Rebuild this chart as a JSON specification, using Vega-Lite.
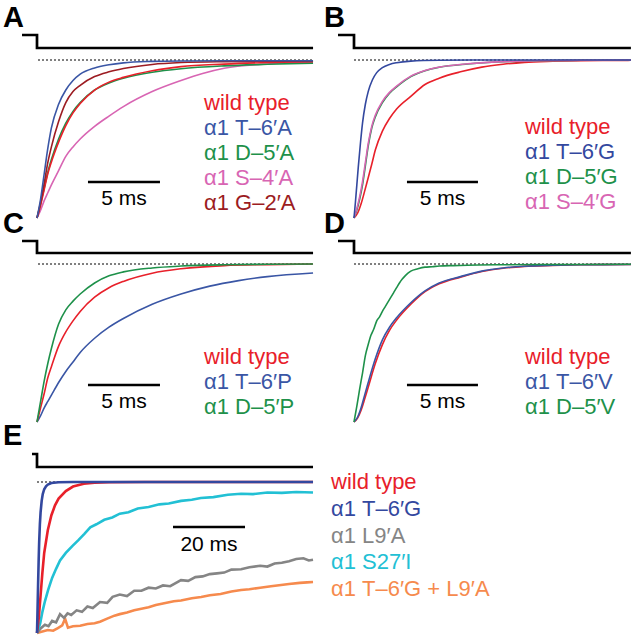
{
"$schema": "https://vega.github.io/schema/vega-lite/v6.json",
"padding": 0,
"background": "white",
"spacing": 0,
"columns": 2,
"bounds": "flush",
"config": {"view": {"stroke": null}, "concat": {"spacing": 0}, "text": {"font": "Liberation Sans"}},
"resolve": {"scale": {"x": "independent", "y": "independent"}},
"datasets": {
"stim": [
{"panel":"A","i":0,"t":-1.04,"level":0.1582},{"panel":"A","i":1,"t":0,"level":0.1582},{"panel":"A","i":2,"t":0,"level":0.0759},{"panel":"A","i":3,"t":19.17,"level":0.0759},
{"panel":"B","i":0,"t":-1.127,"level":0.1582},{"panel":"B","i":1,"t":0,"level":0.1582},{"panel":"B","i":2,"t":0,"level":0.0759},{"panel":"B","i":3,"t":19.5,"level":0.0759},
{"panel":"C","i":0,"t":-1.04,"level":0.1456},{"panel":"C","i":1,"t":0,"level":0.1456},{"panel":"C","i":2,"t":0,"level":0.0696},{"panel":"C","i":3,"t":19.17,"level":0.0696},
{"panel":"D","i":0,"t":-1.127,"level":0.1456},{"panel":"D","i":1,"t":0,"level":0.1456},{"panel":"D","i":2,"t":0,"level":0.0696},{"panel":"D","i":3,"t":19.5,"level":0.0696},
{"panel":"E","i":0,"t":-1.39,"level":0.1854},{"panel":"E","i":1,"t":0,"level":0.1854},{"panel":"E","i":2,"t":0,"level":0.0993},{"panel":"E","i":3,"t":76.67,"level":0.0993}
],
"panels": [
{"panel":"A","bar":"5 ms"},{"panel":"B","bar":"5 ms"},{"panel":"C","bar":"5 ms"},{"panel":"D","bar":"5 ms"},{"panel":"E","bar":"20 ms"}
],
"labels": [
{"panel":"A","series":"wild type","rank":0},{"panel":"A","series":"α1 T–6′A","rank":1},{"panel":"A","series":"α1 D–5′A","rank":2},{"panel":"A","series":"α1 S–4′A","rank":3},{"panel":"A","series":"α1 G–2′A","rank":4},
{"panel":"B","series":"wild type","rank":0},{"panel":"B","series":"α1 T–6′G","rank":1},{"panel":"B","series":"α1 D–5′G","rank":2},{"panel":"B","series":"α1 S–4′G","rank":3},
{"panel":"C","series":"wild type","rank":0},{"panel":"C","series":"α1 T–6′P","rank":1},{"panel":"C","series":"α1 D–5′P","rank":2},
{"panel":"D","series":"wild type","rank":0},{"panel":"D","series":"α1 T–6′V","rank":1},{"panel":"D","series":"α1 D–5′V","rank":2},
{"panel":"E","series":"wild type","rank":0},{"panel":"E","series":"α1 T–6′G","rank":1},{"panel":"E","series":"α1 L9′A","rank":2},{"panel":"E","series":"α1 S27′I","rank":3},{"panel":"E","series":"α1 T–6′G + L9′A","rank":4}
],
"traces": [
{"panel":"A","series":"α1 S–4′A","t":0,"current":-1},{"panel":"A","series":"α1 S–4′A","t":0.25,"current":-0.95},{"panel":"A","series":"α1 S–4′A","t":0.5,"current":-0.89},{"panel":"A","series":"α1 S–4′A","t":0.75,"current":-0.84},{"panel":"A","series":"α1 S–4′A","t":1,"current":-0.79},{"panel":"A","series":"α1 S–4′A","t":1.5,"current":-0.7},{"panel":"A","series":"α1 S–4′A","t":2,"current":-0.61},{"panel":"A","series":"α1 S–4′A","t":2.5,"current":-0.55},{"panel":"A","series":"α1 S–4′A","t":3,"current":-0.5},{"panel":"A","series":"α1 S–4′A","t":4,"current":-0.42},{"panel":"A","series":"α1 S–4′A","t":5,"current":-0.355},{"panel":"A","series":"α1 S–4′A","t":6,"current":-0.295},{"panel":"A","series":"α1 S–4′A","t":8,"current":-0.2},{"panel":"A","series":"α1 S–4′A","t":10,"current":-0.13},{"panel":"A","series":"α1 S–4′A","t":11.5,"current":-0.085},{"panel":"A","series":"α1 S–4′A","t":13,"current":-0.052},{"panel":"A","series":"α1 S–4′A","t":16,"current":-0.025},{"panel":"A","series":"α1 S–4′A","t":19.17,"current":-0.013},
{"panel":"A","series":"α1 D–5′A","t":0,"current":-1},{"panel":"A","series":"α1 D–5′A","t":0.25,"current":-0.91},{"panel":"A","series":"α1 D–5′A","t":0.5,"current":-0.81},{"panel":"A","series":"α1 D–5′A","t":0.75,"current":-0.71},{"panel":"A","series":"α1 D–5′A","t":1,"current":-0.63},{"panel":"A","series":"α1 D–5′A","t":1.5,"current":-0.5},{"panel":"A","series":"α1 D–5′A","t":2,"current":-0.4},{"panel":"A","series":"α1 D–5′A","t":2.5,"current":-0.325},{"panel":"A","series":"α1 D–5′A","t":3,"current":-0.27},{"panel":"A","series":"α1 D–5′A","t":4,"current":-0.19},{"panel":"A","series":"α1 D–5′A","t":5,"current":-0.145},{"panel":"A","series":"α1 D–5′A","t":6,"current":-0.115},{"panel":"A","series":"α1 D–5′A","t":8,"current":-0.077},{"panel":"A","series":"α1 D–5′A","t":10,"current":-0.055},{"panel":"A","series":"α1 D–5′A","t":13,"current":-0.037},{"panel":"A","series":"α1 D–5′A","t":16,"current":-0.027},{"panel":"A","series":"α1 D–5′A","t":19.17,"current":-0.02},
{"panel":"A","series":"wild type","t":0,"current":-1},{"panel":"A","series":"wild type","t":0.25,"current":-0.92},{"panel":"A","series":"wild type","t":0.5,"current":-0.82},{"panel":"A","series":"wild type","t":0.75,"current":-0.72},{"panel":"A","series":"wild type","t":1,"current":-0.645},{"panel":"A","series":"wild type","t":1.5,"current":-0.52},{"panel":"A","series":"wild type","t":2,"current":-0.415},{"panel":"A","series":"wild type","t":2.5,"current":-0.335},{"panel":"A","series":"wild type","t":3,"current":-0.275},{"panel":"A","series":"wild type","t":4,"current":-0.19},{"panel":"A","series":"wild type","t":5,"current":-0.14},{"panel":"A","series":"wild type","t":6,"current":-0.11},{"panel":"A","series":"wild type","t":8,"current":-0.068},{"panel":"A","series":"wild type","t":10,"current":-0.042},{"panel":"A","series":"wild type","t":13,"current":-0.026},{"panel":"A","series":"wild type","t":16,"current":-0.016},{"panel":"A","series":"wild type","t":19.17,"current":-0.01},
{"panel":"A","series":"α1 G–2′A","t":0,"current":-1},{"panel":"A","series":"α1 G–2′A","t":0.25,"current":-0.9},{"panel":"A","series":"α1 G–2′A","t":0.5,"current":-0.78},{"panel":"A","series":"α1 G–2′A","t":0.75,"current":-0.65},{"panel":"A","series":"α1 G–2′A","t":1,"current":-0.55},{"panel":"A","series":"α1 G–2′A","t":1.5,"current":-0.39},{"panel":"A","series":"α1 G–2′A","t":2,"current":-0.27},{"panel":"A","series":"α1 G–2′A","t":2.5,"current":-0.2},{"panel":"A","series":"α1 G–2′A","t":3,"current":-0.16},{"panel":"A","series":"α1 G–2′A","t":4,"current":-0.105},{"panel":"A","series":"α1 G–2′A","t":5,"current":-0.075},{"panel":"A","series":"α1 G–2′A","t":6,"current":-0.054},{"panel":"A","series":"α1 G–2′A","t":8,"current":-0.028},{"panel":"A","series":"α1 G–2′A","t":10,"current":-0.016},{"panel":"A","series":"α1 G–2′A","t":13,"current":-0.01},{"panel":"A","series":"α1 G–2′A","t":16,"current":-0.008},{"panel":"A","series":"α1 G–2′A","t":19.17,"current":-0.007},
{"panel":"A","series":"α1 T–6′A","t":0,"current":-1},{"panel":"A","series":"α1 T–6′A","t":0.25,"current":-0.88},{"panel":"A","series":"α1 T–6′A","t":0.5,"current":-0.72},{"panel":"A","series":"α1 T–6′A","t":0.75,"current":-0.56},{"panel":"A","series":"α1 T–6′A","t":1,"current":-0.43},{"panel":"A","series":"α1 T–6′A","t":1.5,"current":-0.28},{"panel":"A","series":"α1 T–6′A","t":2,"current":-0.19},{"panel":"A","series":"α1 T–6′A","t":2.5,"current":-0.13},{"panel":"A","series":"α1 T–6′A","t":3,"current":-0.09},{"panel":"A","series":"α1 T–6′A","t":4,"current":-0.05},{"panel":"A","series":"α1 T–6′A","t":5,"current":-0.03},{"panel":"A","series":"α1 T–6′A","t":6,"current":-0.018},{"panel":"A","series":"α1 T–6′A","t":8,"current":-0.009},{"panel":"A","series":"α1 T–6′A","t":10,"current":-0.006},{"panel":"A","series":"α1 T–6′A","t":13,"current":-0.005},{"panel":"A","series":"α1 T–6′A","t":16,"current":-0.005},{"panel":"A","series":"α1 T–6′A","t":19.17,"current":-0.005},

{"panel":"B","series":"wild type","t":0,"current":-1},{"panel":"B","series":"wild type","t":0.25,"current":-0.97},{"panel":"B","series":"wild type","t":0.5,"current":-0.91},{"panel":"B","series":"wild type","t":0.75,"current":-0.83},{"panel":"B","series":"wild type","t":1,"current":-0.745},{"panel":"B","series":"wild type","t":1.25,"current":-0.66},{"panel":"B","series":"wild type","t":1.5,"current":-0.57},{"panel":"B","series":"wild type","t":2,"current":-0.45},{"panel":"B","series":"wild type","t":2.5,"current":-0.37},{"panel":"B","series":"wild type","t":3,"current":-0.31},{"panel":"B","series":"wild type","t":4,"current":-0.23},{"panel":"B","series":"wild type","t":5,"current":-0.155},{"panel":"B","series":"wild type","t":6,"current":-0.115},{"panel":"B","series":"wild type","t":7.5,"current":-0.075},{"panel":"B","series":"wild type","t":9,"current":-0.045},{"panel":"B","series":"wild type","t":10.5,"current":-0.027},{"panel":"B","series":"wild type","t":12,"current":-0.015},{"panel":"B","series":"wild type","t":14,"current":-0.008},{"panel":"B","series":"wild type","t":16,"current":-0.004},{"panel":"B","series":"wild type","t":19.5,"current":-0.002},
{"panel":"B","series":"α1 D–5′G","t":0,"current":-1},{"panel":"B","series":"α1 D–5′G","t":0.2,"current":-0.95},{"panel":"B","series":"α1 D–5′G","t":0.4,"current":-0.88},{"panel":"B","series":"α1 D–5′G","t":0.6,"current":-0.79},{"panel":"B","series":"α1 D–5′G","t":0.8,"current":-0.67},{"panel":"B","series":"α1 D–5′G","t":1,"current":-0.545},{"panel":"B","series":"α1 D–5′G","t":1.25,"current":-0.43},{"panel":"B","series":"α1 D–5′G","t":1.5,"current":-0.36},{"panel":"B","series":"α1 D–5′G","t":2,"current":-0.27},{"panel":"B","series":"α1 D–5′G","t":2.5,"current":-0.21},{"panel":"B","series":"α1 D–5′G","t":3,"current":-0.17},{"panel":"B","series":"α1 D–5′G","t":4,"current":-0.105},{"panel":"B","series":"α1 D–5′G","t":5,"current":-0.068},{"panel":"B","series":"α1 D–5′G","t":6,"current":-0.046},{"panel":"B","series":"α1 D–5′G","t":8,"current":-0.025},{"panel":"B","series":"α1 D–5′G","t":10,"current":-0.013},{"panel":"B","series":"α1 D–5′G","t":13,"current":-0.005},{"panel":"B","series":"α1 D–5′G","t":16,"current":-0.002},{"panel":"B","series":"α1 D–5′G","t":19.5,"current":0},
{"panel":"B","series":"α1 S–4′G","t":0,"current":-1},{"panel":"B","series":"α1 S–4′G","t":0.2,"current":-0.94},{"panel":"B","series":"α1 S–4′G","t":0.4,"current":-0.865},{"panel":"B","series":"α1 S–4′G","t":0.6,"current":-0.77},{"panel":"B","series":"α1 S–4′G","t":0.8,"current":-0.65},{"panel":"B","series":"α1 S–4′G","t":1,"current":-0.53},{"panel":"B","series":"α1 S–4′G","t":1.25,"current":-0.42},{"panel":"B","series":"α1 S–4′G","t":1.5,"current":-0.35},{"panel":"B","series":"α1 S–4′G","t":2,"current":-0.262},{"panel":"B","series":"α1 S–4′G","t":2.5,"current":-0.205},{"panel":"B","series":"α1 S–4′G","t":3,"current":-0.165},{"panel":"B","series":"α1 S–4′G","t":4,"current":-0.102},{"panel":"B","series":"α1 S–4′G","t":5,"current":-0.066},{"panel":"B","series":"α1 S–4′G","t":6,"current":-0.045},{"panel":"B","series":"α1 S–4′G","t":8,"current":-0.024},{"panel":"B","series":"α1 S–4′G","t":10,"current":-0.012},{"panel":"B","series":"α1 S–4′G","t":13,"current":-0.005},{"panel":"B","series":"α1 S–4′G","t":16,"current":-0.002},{"panel":"B","series":"α1 S–4′G","t":19.5,"current":0},
{"panel":"B","series":"α1 T–6′G","t":0,"current":-1},{"panel":"B","series":"α1 T–6′G","t":0.1,"current":-0.9},{"panel":"B","series":"α1 T–6′G","t":0.2,"current":-0.79},{"panel":"B","series":"α1 T–6′G","t":0.3,"current":-0.68},{"panel":"B","series":"α1 T–6′G","t":0.45,"current":-0.53},{"panel":"B","series":"α1 T–6′G","t":0.6,"current":-0.4},{"panel":"B","series":"α1 T–6′G","t":0.8,"current":-0.28},{"panel":"B","series":"α1 T–6′G","t":1,"current":-0.2},{"panel":"B","series":"α1 T–6′G","t":1.3,"current":-0.125},{"panel":"B","series":"α1 T–6′G","t":1.6,"current":-0.08},{"panel":"B","series":"α1 T–6′G","t":2,"current":-0.048},{"panel":"B","series":"α1 T–6′G","t":2.5,"current":-0.028},{"panel":"B","series":"α1 T–6′G","t":3,"current":-0.017},{"panel":"B","series":"α1 T–6′G","t":4,"current":-0.007},{"panel":"B","series":"α1 T–6′G","t":6,"current":-0.002},{"panel":"B","series":"α1 T–6′G","t":10,"current":0},{"panel":"B","series":"α1 T–6′G","t":19.5,"current":0},

{"panel":"C","series":"α1 T–6′P","t":0,"current":-1},{"panel":"C","series":"α1 T–6′P","t":0.25,"current":-0.96},{"panel":"C","series":"α1 T–6′P","t":0.5,"current":-0.91},{"panel":"C","series":"α1 T–6′P","t":0.75,"current":-0.87},{"panel":"C","series":"α1 T–6′P","t":1,"current":-0.83},{"panel":"C","series":"α1 T–6′P","t":1.5,"current":-0.75},{"panel":"C","series":"α1 T–6′P","t":2,"current":-0.68},{"panel":"C","series":"α1 T–6′P","t":2.5,"current":-0.62},{"panel":"C","series":"α1 T–6′P","t":3,"current":-0.56},{"panel":"C","series":"α1 T–6′P","t":4,"current":-0.47},{"panel":"C","series":"α1 T–6′P","t":5,"current":-0.4},{"panel":"C","series":"α1 T–6′P","t":6,"current":-0.345},{"panel":"C","series":"α1 T–6′P","t":8,"current":-0.255},{"panel":"C","series":"α1 T–6′P","t":10,"current":-0.19},{"panel":"C","series":"α1 T–6′P","t":12,"current":-0.14},{"panel":"C","series":"α1 T–6′P","t":14,"current":-0.105},{"panel":"C","series":"α1 T–6′P","t":16,"current":-0.08},{"panel":"C","series":"α1 T–6′P","t":19.17,"current":-0.057},
{"panel":"C","series":"wild type","t":0,"current":-1},{"panel":"C","series":"wild type","t":0.25,"current":-0.91},{"panel":"C","series":"wild type","t":0.5,"current":-0.82},{"panel":"C","series":"wild type","t":0.75,"current":-0.72},{"panel":"C","series":"wild type","t":1,"current":-0.65},{"panel":"C","series":"wild type","t":1.5,"current":-0.52},{"panel":"C","series":"wild type","t":2,"current":-0.43},{"panel":"C","series":"wild type","t":2.5,"current":-0.36},{"panel":"C","series":"wild type","t":3,"current":-0.3},{"panel":"C","series":"wild type","t":4,"current":-0.21},{"panel":"C","series":"wild type","t":5,"current":-0.15},{"panel":"C","series":"wild type","t":6,"current":-0.11},{"panel":"C","series":"wild type","t":8,"current":-0.058},{"panel":"C","series":"wild type","t":10,"current":-0.03},{"panel":"C","series":"wild type","t":13,"current":-0.01},{"panel":"C","series":"wild type","t":16,"current":-0.004},{"panel":"C","series":"wild type","t":19.17,"current":0},
{"panel":"C","series":"α1 D–5′P","t":0,"current":-1},{"panel":"C","series":"α1 D–5′P","t":0.25,"current":-0.87},{"panel":"C","series":"α1 D–5′P","t":0.5,"current":-0.74},{"panel":"C","series":"α1 D–5′P","t":0.75,"current":-0.63},{"panel":"C","series":"α1 D–5′P","t":1,"current":-0.535},{"panel":"C","series":"α1 D–5′P","t":1.5,"current":-0.38},{"panel":"C","series":"α1 D–5′P","t":2,"current":-0.29},{"panel":"C","series":"α1 D–5′P","t":2.5,"current":-0.235},{"panel":"C","series":"α1 D–5′P","t":3,"current":-0.19},{"panel":"C","series":"α1 D–5′P","t":4,"current":-0.12},{"panel":"C","series":"α1 D–5′P","t":5,"current":-0.075},{"panel":"C","series":"α1 D–5′P","t":6,"current":-0.05},{"panel":"C","series":"α1 D–5′P","t":8,"current":-0.025},{"panel":"C","series":"α1 D–5′P","t":10,"current":-0.013},{"panel":"C","series":"α1 D–5′P","t":13,"current":-0.005},{"panel":"C","series":"α1 D–5′P","t":16,"current":-0.002},{"panel":"C","series":"α1 D–5′P","t":19.17,"current":0},

{"panel":"D","series":"wild type","t":0,"current":-1},{"panel":"D","series":"wild type","t":0.25,"current":-0.975},{"panel":"D","series":"wild type","t":0.5,"current":-0.925},{"panel":"D","series":"wild type","t":0.75,"current":-0.855},{"panel":"D","series":"wild type","t":1,"current":-0.78},{"panel":"D","series":"wild type","t":1.5,"current":-0.63},{"panel":"D","series":"wild type","t":2,"current":-0.51},{"panel":"D","series":"wild type","t":2.5,"current":-0.42},{"panel":"D","series":"wild type","t":3,"current":-0.355},{"panel":"D","series":"wild type","t":4,"current":-0.255},{"panel":"D","series":"wild type","t":5,"current":-0.175},{"panel":"D","series":"wild type","t":6,"current":-0.125},{"panel":"D","series":"wild type","t":7.5,"current":-0.083},{"panel":"D","series":"wild type","t":9,"current":-0.048},{"panel":"D","series":"wild type","t":10.5,"current":-0.027},{"panel":"D","series":"wild type","t":12,"current":-0.015},{"panel":"D","series":"wild type","t":14,"current":-0.009},{"panel":"D","series":"wild type","t":16,"current":-0.005},{"panel":"D","series":"wild type","t":19.5,"current":-0.003},
{"panel":"D","series":"α1 T–6′V","t":0,"current":-1},{"panel":"D","series":"α1 T–6′V","t":0.25,"current":-0.97},{"panel":"D","series":"α1 T–6′V","t":0.5,"current":-0.91},{"panel":"D","series":"α1 T–6′V","t":0.75,"current":-0.83},{"panel":"D","series":"α1 T–6′V","t":1,"current":-0.75},{"panel":"D","series":"α1 T–6′V","t":1.5,"current":-0.6},{"panel":"D","series":"α1 T–6′V","t":2,"current":-0.48},{"panel":"D","series":"α1 T–6′V","t":2.5,"current":-0.4},{"panel":"D","series":"α1 T–6′V","t":3,"current":-0.34},{"panel":"D","series":"α1 T–6′V","t":4,"current":-0.245},{"panel":"D","series":"α1 T–6′V","t":5,"current":-0.17},{"panel":"D","series":"α1 T–6′V","t":6,"current":-0.12},{"panel":"D","series":"α1 T–6′V","t":7.5,"current":-0.08},{"panel":"D","series":"α1 T–6′V","t":9,"current":-0.045},{"panel":"D","series":"α1 T–6′V","t":10.5,"current":-0.025},{"panel":"D","series":"α1 T–6′V","t":12,"current":-0.014},{"panel":"D","series":"α1 T–6′V","t":14,"current":-0.008},{"panel":"D","series":"α1 T–6′V","t":16,"current":-0.005},{"panel":"D","series":"α1 T–6′V","t":19.5,"current":-0.003},
{"panel":"D","series":"α1 D–5′V","t":0,"current":-1},{"panel":"D","series":"α1 D–5′V","t":0.2,"current":-0.9},{"panel":"D","series":"α1 D–5′V","t":0.4,"current":-0.79},{"panel":"D","series":"α1 D–5′V","t":0.6,"current":-0.69},{"panel":"D","series":"α1 D–5′V","t":0.8,"current":-0.58},{"panel":"D","series":"α1 D–5′V","t":1,"current":-0.51},{"panel":"D","series":"α1 D–5′V","t":1.2,"current":-0.45},{"panel":"D","series":"α1 D–5′V","t":1.4,"current":-0.41},{"panel":"D","series":"α1 D–5′V","t":1.6,"current":-0.36},{"panel":"D","series":"α1 D–5′V","t":1.8,"current":-0.335},{"panel":"D","series":"α1 D–5′V","t":2,"current":-0.3},{"panel":"D","series":"α1 D–5′V","t":2.2,"current":-0.27},{"panel":"D","series":"α1 D–5′V","t":2.4,"current":-0.24},{"panel":"D","series":"α1 D–5′V","t":2.6,"current":-0.21},{"panel":"D","series":"α1 D–5′V","t":2.8,"current":-0.18},{"panel":"D","series":"α1 D–5′V","t":3,"current":-0.15},{"panel":"D","series":"α1 D–5′V","t":3.2,"current":-0.12},{"panel":"D","series":"α1 D–5′V","t":3.4,"current":-0.095},{"panel":"D","series":"α1 D–5′V","t":3.6,"current":-0.075},{"panel":"D","series":"α1 D–5′V","t":3.8,"current":-0.058},{"panel":"D","series":"α1 D–5′V","t":4,"current":-0.045},{"panel":"D","series":"α1 D–5′V","t":4.5,"current":-0.03},{"panel":"D","series":"α1 D–5′V","t":5,"current":-0.02},{"panel":"D","series":"α1 D–5′V","t":5.5,"current":-0.017},{"panel":"D","series":"α1 D–5′V","t":6,"current":-0.013},{"panel":"D","series":"α1 D–5′V","t":7,"current":-0.01},{"panel":"D","series":"α1 D–5′V","t":8,"current":-0.008},{"panel":"D","series":"α1 D–5′V","t":10,"current":-0.005},{"panel":"D","series":"α1 D–5′V","t":13,"current":-0.003},{"panel":"D","series":"α1 D–5′V","t":16,"current":-0.003},{"panel":"D","series":"α1 D–5′V","t":19.5,"current":-0.002},

{"panel":"E","series":"α1 T–6′G + L9′A","t":0,"current":-1},{"panel":"E","series":"α1 T–6′G + L9′A","t":1.5,"current":-0.99},{"panel":"E","series":"α1 T–6′G + L9′A","t":3,"current":-0.98},{"panel":"E","series":"α1 T–6′G + L9′A","t":4.5,"current":-0.985},{"panel":"E","series":"α1 T–6′G + L9′A","t":5.8,"current":-0.967},{"panel":"E","series":"α1 T–6′G + L9′A","t":7,"current":-0.95},{"panel":"E","series":"α1 T–6′G + L9′A","t":7.8,"current":-0.905},{"panel":"E","series":"α1 T–6′G + L9′A","t":8.6,"current":-0.965},{"panel":"E","series":"α1 T–6′G + L9′A","t":10,"current":-0.955},{"panel":"E","series":"α1 T–6′G + L9′A","t":12,"current":-0.952},{"panel":"E","series":"α1 T–6′G + L9′A","t":14,"current":-0.94},{"panel":"E","series":"α1 T–6′G + L9′A","t":16,"current":-0.935},{"panel":"E","series":"α1 T–6′G + L9′A","t":17.5,"current":-0.925},{"panel":"E","series":"α1 T–6′G + L9′A","t":19.5,"current":-0.905},{"panel":"E","series":"α1 T–6′G + L9′A","t":21.5,"current":-0.885},{"panel":"E","series":"α1 T–6′G + L9′A","t":23,"current":-0.875},{"panel":"E","series":"α1 T–6′G + L9′A","t":25,"current":-0.865},{"panel":"E","series":"α1 T–6′G + L9′A","t":27,"current":-0.85},{"panel":"E","series":"α1 T–6′G + L9′A","t":29,"current":-0.84},{"panel":"E","series":"α1 T–6′G + L9′A","t":31,"current":-0.83},{"panel":"E","series":"α1 T–6′G + L9′A","t":33,"current":-0.815},{"panel":"E","series":"α1 T–6′G + L9′A","t":35,"current":-0.805},{"panel":"E","series":"α1 T–6′G + L9′A","t":38,"current":-0.79},{"panel":"E","series":"α1 T–6′G + L9′A","t":40,"current":-0.785},{"panel":"E","series":"α1 T–6′G + L9′A","t":43,"current":-0.77},{"panel":"E","series":"α1 T–6′G + L9′A","t":45.6,"current":-0.762},{"panel":"E","series":"α1 T–6′G + L9′A","t":48,"current":-0.75},{"panel":"E","series":"α1 T–6′G + L9′A","t":51,"current":-0.742},{"panel":"E","series":"α1 T–6′G + L9′A","t":54,"current":-0.725},{"panel":"E","series":"α1 T–6′G + L9′A","t":56.7,"current":-0.715},{"panel":"E","series":"α1 T–6′G + L9′A","t":59,"current":-0.71},{"panel":"E","series":"α1 T–6′G + L9′A","t":62,"current":-0.7},{"panel":"E","series":"α1 T–6′G + L9′A","t":65,"current":-0.69},{"panel":"E","series":"α1 T–6′G + L9′A","t":67.8,"current":-0.682},{"panel":"E","series":"α1 T–6′G + L9′A","t":70,"current":-0.675},{"panel":"E","series":"α1 T–6′G + L9′A","t":73,"current":-0.668},{"panel":"E","series":"α1 T–6′G + L9′A","t":75,"current":-0.665},{"panel":"E","series":"α1 T–6′G + L9′A","t":76.67,"current":-0.662},
{"panel":"E","series":"α1 L9′A","t":0,"current":-1},{"panel":"E","series":"α1 L9′A","t":1,"current":-0.97},{"panel":"E","series":"α1 L9′A","t":2.2,"current":-0.945},{"panel":"E","series":"α1 L9′A","t":3.2,"current":-0.955},{"panel":"E","series":"α1 L9′A","t":4.2,"current":-0.92},{"panel":"E","series":"α1 L9′A","t":5.3,"current":-0.93},{"panel":"E","series":"α1 L9′A","t":6.4,"current":-0.875},{"panel":"E","series":"α1 L9′A","t":7.5,"current":-0.9},{"panel":"E","series":"α1 L9′A","t":8.5,"current":-0.87},{"panel":"E","series":"α1 L9′A","t":9.5,"current":-0.88},{"panel":"E","series":"α1 L9′A","t":11,"current":-0.85},{"panel":"E","series":"α1 L9′A","t":12.5,"current":-0.86},{"panel":"E","series":"α1 L9′A","t":14,"current":-0.825},{"panel":"E","series":"α1 L9′A","t":15.5,"current":-0.835},{"panel":"E","series":"α1 L9′A","t":17.5,"current":-0.795},{"panel":"E","series":"α1 L9′A","t":19.5,"current":-0.8},{"panel":"E","series":"α1 L9′A","t":21,"current":-0.76},{"panel":"E","series":"α1 L9′A","t":23,"current":-0.745},{"panel":"E","series":"α1 L9′A","t":25,"current":-0.755},{"panel":"E","series":"α1 L9′A","t":27,"current":-0.72},{"panel":"E","series":"α1 L9′A","t":29,"current":-0.72},{"panel":"E","series":"α1 L9′A","t":31,"current":-0.7},{"panel":"E","series":"α1 L9′A","t":33,"current":-0.705},{"panel":"E","series":"α1 L9′A","t":35,"current":-0.685},{"panel":"E","series":"α1 L9′A","t":37,"current":-0.69},{"panel":"E","series":"α1 L9′A","t":40,"current":-0.65},{"panel":"E","series":"α1 L9′A","t":42,"current":-0.655},{"panel":"E","series":"α1 L9′A","t":44,"current":-0.63},{"panel":"E","series":"α1 L9′A","t":46,"current":-0.625},{"panel":"E","series":"α1 L9′A","t":48,"current":-0.61},{"panel":"E","series":"α1 L9′A","t":50,"current":-0.605},{"panel":"E","series":"α1 L9′A","t":52,"current":-0.6},{"panel":"E","series":"α1 L9′A","t":54,"current":-0.58},{"panel":"E","series":"α1 L9′A","t":56.7,"current":-0.578},{"panel":"E","series":"α1 L9′A","t":59,"current":-0.565},{"panel":"E","series":"α1 L9′A","t":62,"current":-0.555},{"panel":"E","series":"α1 L9′A","t":64,"current":-0.56},{"panel":"E","series":"α1 L9′A","t":66,"current":-0.54},{"panel":"E","series":"α1 L9′A","t":68,"current":-0.535},{"panel":"E","series":"α1 L9′A","t":70,"current":-0.525},{"panel":"E","series":"α1 L9′A","t":72,"current":-0.51},{"panel":"E","series":"α1 L9′A","t":74,"current":-0.505},{"panel":"E","series":"α1 L9′A","t":75.5,"current":-0.52},{"panel":"E","series":"α1 L9′A","t":76.67,"current":-0.515},
{"panel":"E","series":"α1 S27′I","t":0,"current":-1},{"panel":"E","series":"α1 S27′I","t":0.9,"current":-0.935},{"panel":"E","series":"α1 S27′I","t":1.5,"current":-0.86},{"panel":"E","series":"α1 S27′I","t":2.2,"current":-0.79},{"panel":"E","series":"α1 S27′I","t":3.1,"current":-0.715},{"panel":"E","series":"α1 S27′I","t":4.2,"current":-0.635},{"panel":"E","series":"α1 S27′I","t":5.3,"current":-0.575},{"panel":"E","series":"α1 S27′I","t":6.4,"current":-0.52},{"panel":"E","series":"α1 S27′I","t":8,"current":-0.47},{"panel":"E","series":"α1 S27′I","t":9.8,"current":-0.425},{"panel":"E","series":"α1 S27′I","t":11.5,"current":-0.385},{"panel":"E","series":"α1 S27′I","t":13.1,"current":-0.345},{"panel":"E","series":"α1 S27′I","t":14.8,"current":-0.3},{"panel":"E","series":"α1 S27′I","t":16.5,"current":-0.28},{"panel":"E","series":"α1 S27′I","t":18.7,"current":-0.25},{"panel":"E","series":"α1 S27′I","t":20.9,"current":-0.235},{"panel":"E","series":"α1 S27′I","t":23,"current":-0.21},{"panel":"E","series":"α1 S27′I","t":25.4,"current":-0.2},{"panel":"E","series":"α1 S27′I","t":28,"current":-0.175},{"panel":"E","series":"α1 S27′I","t":31,"current":-0.165},{"panel":"E","series":"α1 S27′I","t":34,"current":-0.148},{"panel":"E","series":"α1 S27′I","t":36.6,"current":-0.142},{"panel":"E","series":"α1 S27′I","t":40,"current":-0.125},{"panel":"E","series":"α1 S27′I","t":43,"current":-0.118},{"panel":"E","series":"α1 S27′I","t":45.5,"current":-0.106},{"panel":"E","series":"α1 S27′I","t":49,"current":-0.1},{"panel":"E","series":"α1 S27′I","t":53,"current":-0.084},{"panel":"E","series":"α1 S27′I","t":56.7,"current":-0.078},{"panel":"E","series":"α1 S27′I","t":60,"current":-0.08},{"panel":"E","series":"α1 S27′I","t":64,"current":-0.07},{"panel":"E","series":"α1 S27′I","t":68,"current":-0.072},{"panel":"E","series":"α1 S27′I","t":72,"current":-0.066},{"panel":"E","series":"α1 S27′I","t":76.67,"current":-0.07},
{"panel":"E","series":"wild type","t":0,"current":-1},{"panel":"E","series":"wild type","t":0.5,"current":-0.9},{"panel":"E","series":"wild type","t":1,"current":-0.75},{"panel":"E","series":"wild type","t":1.5,"current":-0.6},{"panel":"E","series":"wild type","t":2,"current":-0.47},{"panel":"E","series":"wild type","t":3,"current":-0.32},{"panel":"E","series":"wild type","t":4,"current":-0.22},{"panel":"E","series":"wild type","t":5,"current":-0.155},{"panel":"E","series":"wild type","t":6,"current":-0.11},{"panel":"E","series":"wild type","t":8,"current":-0.06},{"panel":"E","series":"wild type","t":10,"current":-0.03},{"panel":"E","series":"wild type","t":13,"current":-0.012},{"panel":"E","series":"wild type","t":16,"current":-0.005},{"panel":"E","series":"wild type","t":20,"current":-0.002},{"panel":"E","series":"wild type","t":30,"current":0},{"panel":"E","series":"wild type","t":76.67,"current":0},
{"panel":"E","series":"α1 T–6′G","t":0,"current":-1},{"panel":"E","series":"α1 T–6′G","t":0.1,"current":-0.9},{"panel":"E","series":"α1 T–6′G","t":0.2,"current":-0.79},{"panel":"E","series":"α1 T–6′G","t":0.3,"current":-0.68},{"panel":"E","series":"α1 T–6′G","t":0.45,"current":-0.53},{"panel":"E","series":"α1 T–6′G","t":0.6,"current":-0.4},{"panel":"E","series":"α1 T–6′G","t":0.8,"current":-0.28},{"panel":"E","series":"α1 T–6′G","t":1,"current":-0.2},{"panel":"E","series":"α1 T–6′G","t":1.3,"current":-0.125},{"panel":"E","series":"α1 T–6′G","t":1.6,"current":-0.08},{"panel":"E","series":"α1 T–6′G","t":2,"current":-0.048},{"panel":"E","series":"α1 T–6′G","t":2.5,"current":-0.028},{"panel":"E","series":"α1 T–6′G","t":3,"current":-0.017},{"panel":"E","series":"α1 T–6′G","t":4,"current":-0.007},{"panel":"E","series":"α1 T–6′G","t":6,"current":-0.002},{"panel":"E","series":"α1 T–6′G","t":10,"current":0},{"panel":"E","series":"α1 T–6′G","t":76.67,"current":0}
]
},
"concat": [
{"width": 316, "height": 220, "resolve": {"scale": {"y": "independent"}}, "layer": [
{"data": {"name": "stim"}, "transform": [{"filter": "datum.panel === 'A'"}], "mark": {"type": "line", "color": "#000", "strokeWidth": 2.7, "strokeJoin": "miter", "strokeCap": "butt"}, "encoding": {"x": {"field": "t", "type": "quantitative", "scale": {"domain": [-2.5694, 19.375], "nice": false, "zero": false}, "axis": null}, "y": {"field": "level", "type": "quantitative", "scale": {"domain": [-1.01266, 0.37975], "nice": false, "zero": false}, "axis": null}, "order": {"field": "i", "type": "quantitative"}}},
{"data": {"name": "panels"}, "transform": [{"filter": "datum.panel === 'A'"}], "mark": {"type": "rule", "color": "#000", "strokeWidth": 1, "strokeDash": [2, 2]}, "encoding": {"x": {"datum": 0.07}, "x2": {"datum": 19.17}, "y": {"datum": 0, "scale": {"domain": [-1.01266, 0.37975], "nice": false, "zero": false}, "axis": null}}},
{"data": {"name": "traces"}, "transform": [{"filter": "datum.panel === 'A'"}], "mark": {"type": "line", "strokeWidth": 1.6, "interpolate": "monotone"}, "encoding": {"x": {"field": "t", "type": "quantitative"}, "y": {"field": "current", "type": "quantitative", "scale": {"domain": [-1.01266, 0.37975], "nice": false, "zero": false}, "axis": null}, "color": {"field": "series", "type": "nominal", "legend": null, "scale": {"domain": ["wild type","α1 T–6′A","α1 D–5′A","α1 S–4′A","α1 G–2′A","α1 T–6′G","α1 D–5′G","α1 S–4′G","α1 T–6′P","α1 D–5′P","α1 T–6′V","α1 D–5′V","α1 L9′A","α1 S27′I","α1 T–6′G + L9′A"], "range": ["#e8202a","#3a56a5","#1e914a","#d865b3","#9c1c22","#33489f","#1e914a","#d865b3","#3a56a5","#1e914a","#3a56a5","#1e914a","#858585","#22c0d4","#f68a4d"]}}}},
{"data": {"name": "labels"}, "transform": [{"filter": "datum.panel === 'A'"}], "mark": {"type": "text", "align": "left", "baseline": "middle", "fontSize": 22}, "encoding": {"x": {"datum": 11.6}, "y": {"field": "rank", "type": "quantitative", "scale": {"domain": [0, 4], "range": [103, 203]}, "axis": null}, "text": {"field": "series"}, "color": {"field": "series", "type": "nominal", "legend": null}}},
{"data": {"name": "panels"}, "transform": [{"filter": "datum.panel === 'A'"}], "mark": {"type": "rule", "color": "#000", "strokeWidth": 2.7, "strokeCap": "butt"}, "encoding": {"x": {"datum": 3.54}, "x2": {"datum": 8.54}, "y": {"datum": -0.7722, "scale": {"domain": [-1.01266, 0.37975], "nice": false, "zero": false}, "axis": null}}},
{"data": {"name": "panels"}, "transform": [{"filter": "datum.panel === 'A'"}], "mark": {"type": "text", "align": "center", "baseline": "middle", "fontSize": 21, "color": "#000"}, "encoding": {"x": {"datum": 6.04}, "y": {"datum": -0.8797, "scale": {"domain": [-1.01266, 0.37975], "nice": false, "zero": false}, "axis": null}, "text": {"field": "bar"}}},
{"data": {"name": "panels"}, "transform": [{"filter": "datum.panel === 'A'"}], "mark": {"type": "text", "align": "left", "baseline": "alphabetic", "fontSize": 29, "fontWeight": "bold", "color": "#000"}, "encoding": {"x": {"datum": -2.361}, "y": {"datum": 0.2089, "scale": {"domain": [-1.01266, 0.37975], "nice": false, "zero": false}, "axis": null}, "text": {"field": "panel"}}}
]},
{"width": 315, "height": 220, "resolve": {"scale": {"y": "independent"}}, "layer": [
{"data": {"name": "stim"}, "transform": [{"filter": "datum.panel === 'B'"}], "mark": {"type": "line", "color": "#000", "strokeWidth": 2.7, "strokeJoin": "miter", "strokeCap": "butt"}, "encoding": {"x": {"field": "t", "type": "quantitative", "scale": {"domain": [-2.6761, 19.507], "nice": false, "zero": false}, "axis": null}, "y": {"field": "level", "type": "quantitative", "scale": {"domain": [-1.01266, 0.37975], "nice": false, "zero": false}, "axis": null}, "order": {"field": "i", "type": "quantitative"}}},
{"data": {"name": "panels"}, "transform": [{"filter": "datum.panel === 'B'"}], "mark": {"type": "rule", "color": "#000", "strokeWidth": 1, "strokeDash": [2, 2]}, "encoding": {"x": {"datum": 0}, "x2": {"datum": 19.5}, "y": {"datum": 0, "scale": {"domain": [-1.01266, 0.37975], "nice": false, "zero": false}, "axis": null}}},
{"data": {"name": "traces"}, "transform": [{"filter": "datum.panel === 'B'"}], "mark": {"type": "line", "strokeWidth": 1.6, "interpolate": "monotone"}, "encoding": {"x": {"field": "t", "type": "quantitative"}, "y": {"field": "current", "type": "quantitative", "scale": {"domain": [-1.01266, 0.37975], "nice": false, "zero": false}, "axis": null}, "color": {"field": "series", "type": "nominal", "legend": null, "scale": {"domain": ["wild type","α1 T–6′A","α1 D–5′A","α1 S–4′A","α1 G–2′A","α1 T–6′G","α1 D–5′G","α1 S–4′G","α1 T–6′P","α1 D–5′P","α1 T–6′V","α1 D–5′V","α1 L9′A","α1 S27′I","α1 T–6′G + L9′A"], "range": ["#e8202a","#3a56a5","#1e914a","#d865b3","#9c1c22","#33489f","#1e914a","#d865b3","#3a56a5","#1e914a","#3a56a5","#1e914a","#858585","#22c0d4","#f68a4d"]}}}},
{"data": {"name": "labels"}, "transform": [{"filter": "datum.panel === 'B'"}], "mark": {"type": "text", "align": "left", "baseline": "middle", "fontSize": 22}, "encoding": {"x": {"datum": 12.04}, "y": {"field": "rank", "type": "quantitative", "scale": {"domain": [0, 3], "range": [127, 202]}, "axis": null}, "text": {"field": "series"}, "color": {"field": "series", "type": "nominal", "legend": null}}},
{"data": {"name": "panels"}, "transform": [{"filter": "datum.panel === 'B'"}], "mark": {"type": "rule", "color": "#000", "strokeWidth": 2.7, "strokeCap": "butt"}, "encoding": {"x": {"datum": 3.73}, "x2": {"datum": 8.73}, "y": {"datum": -0.7722, "scale": {"domain": [-1.01266, 0.37975], "nice": false, "zero": false}, "axis": null}}},
{"data": {"name": "panels"}, "transform": [{"filter": "datum.panel === 'B'"}], "mark": {"type": "text", "align": "center", "baseline": "middle", "fontSize": 21, "color": "#000"}, "encoding": {"x": {"datum": 6.23}, "y": {"datum": -0.8797, "scale": {"domain": [-1.01266, 0.37975], "nice": false, "zero": false}, "axis": null}, "text": {"field": "bar"}}},
{"data": {"name": "panels"}, "transform": [{"filter": "datum.panel === 'B'"}], "mark": {"type": "text", "align": "left", "baseline": "alphabetic", "fontSize": 29, "fontWeight": "bold", "color": "#000"}, "encoding": {"x": {"datum": -2.113}, "y": {"datum": 0.2089, "scale": {"domain": [-1.01266, 0.37975], "nice": false, "zero": false}, "axis": null}, "text": {"field": "panel"}}}
]},
{"width": 316, "height": 208, "resolve": {"scale": {"y": "independent"}}, "layer": [
{"data": {"name": "stim"}, "transform": [{"filter": "datum.panel === 'C'"}], "mark": {"type": "line", "color": "#000", "strokeWidth": 2.7, "strokeJoin": "miter", "strokeCap": "butt"}, "encoding": {"x": {"field": "t", "type": "quantitative", "scale": {"domain": [-2.5694, 19.375], "nice": false, "zero": false}, "axis": null}, "y": {"field": "level", "type": "quantitative", "scale": {"domain": [-1.03797, 0.27848], "nice": false, "zero": false}, "axis": null}, "order": {"field": "i", "type": "quantitative"}}},
{"data": {"name": "panels"}, "transform": [{"filter": "datum.panel === 'C'"}], "mark": {"type": "rule", "color": "#000", "strokeWidth": 1, "strokeDash": [2, 2]}, "encoding": {"x": {"datum": 0.07}, "x2": {"datum": 19.17}, "y": {"datum": 0, "scale": {"domain": [-1.03797, 0.27848], "nice": false, "zero": false}, "axis": null}}},
{"data": {"name": "traces"}, "transform": [{"filter": "datum.panel === 'C'"}], "mark": {"type": "line", "strokeWidth": 1.6, "interpolate": "monotone"}, "encoding": {"x": {"field": "t", "type": "quantitative"}, "y": {"field": "current", "type": "quantitative", "scale": {"domain": [-1.03797, 0.27848], "nice": false, "zero": false}, "axis": null}, "color": {"field": "series", "type": "nominal", "legend": null, "scale": {"domain": ["wild type","α1 T–6′A","α1 D–5′A","α1 S–4′A","α1 G–2′A","α1 T–6′G","α1 D–5′G","α1 S–4′G","α1 T–6′P","α1 D–5′P","α1 T–6′V","α1 D–5′V","α1 L9′A","α1 S27′I","α1 T–6′G + L9′A"], "range": ["#e8202a","#3a56a5","#1e914a","#d865b3","#9c1c22","#33489f","#1e914a","#d865b3","#3a56a5","#1e914a","#3a56a5","#1e914a","#858585","#22c0d4","#f68a4d"]}}}},
{"data": {"name": "labels"}, "transform": [{"filter": "datum.panel === 'C'"}], "mark": {"type": "text", "align": "left", "baseline": "middle", "fontSize": 22}, "encoding": {"x": {"datum": 11.6}, "y": {"field": "rank", "type": "quantitative", "scale": {"domain": [0, 2], "range": [137, 187]}, "axis": null}, "text": {"field": "series"}, "color": {"field": "series", "type": "nominal", "legend": null}}},
{"data": {"name": "panels"}, "transform": [{"filter": "datum.panel === 'C'"}], "mark": {"type": "rule", "color": "#000", "strokeWidth": 2.7, "strokeCap": "butt"}, "encoding": {"x": {"datum": 3.54}, "x2": {"datum": 8.54}, "y": {"datum": -0.7658, "scale": {"domain": [-1.03797, 0.27848], "nice": false, "zero": false}, "axis": null}}},
{"data": {"name": "panels"}, "transform": [{"filter": "datum.panel === 'C'"}], "mark": {"type": "text", "align": "center", "baseline": "middle", "fontSize": 21, "color": "#000"}, "encoding": {"x": {"datum": 6.04}, "y": {"datum": -0.8734, "scale": {"domain": [-1.03797, 0.27848], "nice": false, "zero": false}, "axis": null}, "text": {"field": "bar"}}},
{"data": {"name": "panels"}, "transform": [{"filter": "datum.panel === 'C'"}], "mark": {"type": "text", "align": "left", "baseline": "alphabetic", "fontSize": 29, "fontWeight": "bold", "color": "#000"}, "encoding": {"x": {"datum": -2.361}, "y": {"datum": 0.1962, "scale": {"domain": [-1.03797, 0.27848], "nice": false, "zero": false}, "axis": null}, "text": {"field": "panel"}}}
]},
{"width": 315, "height": 208, "resolve": {"scale": {"y": "independent"}}, "layer": [
{"data": {"name": "stim"}, "transform": [{"filter": "datum.panel === 'D'"}], "mark": {"type": "line", "color": "#000", "strokeWidth": 2.7, "strokeJoin": "miter", "strokeCap": "butt"}, "encoding": {"x": {"field": "t", "type": "quantitative", "scale": {"domain": [-2.6761, 19.507], "nice": false, "zero": false}, "axis": null}, "y": {"field": "level", "type": "quantitative", "scale": {"domain": [-1.03797, 0.27848], "nice": false, "zero": false}, "axis": null}, "order": {"field": "i", "type": "quantitative"}}},
{"data": {"name": "panels"}, "transform": [{"filter": "datum.panel === 'D'"}], "mark": {"type": "rule", "color": "#000", "strokeWidth": 1, "strokeDash": [2, 2]}, "encoding": {"x": {"datum": 0}, "x2": {"datum": 19.5}, "y": {"datum": 0, "scale": {"domain": [-1.03797, 0.27848], "nice": false, "zero": false}, "axis": null}}},
{"data": {"name": "traces"}, "transform": [{"filter": "datum.panel === 'D'"}], "mark": {"type": "line", "strokeWidth": 1.6, "interpolate": "monotone"}, "encoding": {"x": {"field": "t", "type": "quantitative"}, "y": {"field": "current", "type": "quantitative", "scale": {"domain": [-1.03797, 0.27848], "nice": false, "zero": false}, "axis": null}, "color": {"field": "series", "type": "nominal", "legend": null, "scale": {"domain": ["wild type","α1 T–6′A","α1 D–5′A","α1 S–4′A","α1 G–2′A","α1 T–6′G","α1 D–5′G","α1 S–4′G","α1 T–6′P","α1 D–5′P","α1 T–6′V","α1 D–5′V","α1 L9′A","α1 S27′I","α1 T–6′G + L9′A"], "range": ["#e8202a","#3a56a5","#1e914a","#d865b3","#9c1c22","#33489f","#1e914a","#d865b3","#3a56a5","#1e914a","#3a56a5","#1e914a","#858585","#22c0d4","#f68a4d"]}}}},
{"data": {"name": "labels"}, "transform": [{"filter": "datum.panel === 'D'"}], "mark": {"type": "text", "align": "left", "baseline": "middle", "fontSize": 22}, "encoding": {"x": {"datum": 12.04}, "y": {"field": "rank", "type": "quantitative", "scale": {"domain": [0, 2], "range": [137, 187]}, "axis": null}, "text": {"field": "series"}, "color": {"field": "series", "type": "nominal", "legend": null}}},
{"data": {"name": "panels"}, "transform": [{"filter": "datum.panel === 'D'"}], "mark": {"type": "rule", "color": "#000", "strokeWidth": 2.7, "strokeCap": "butt"}, "encoding": {"x": {"datum": 3.73}, "x2": {"datum": 8.73}, "y": {"datum": -0.7658, "scale": {"domain": [-1.03797, 0.27848], "nice": false, "zero": false}, "axis": null}}},
{"data": {"name": "panels"}, "transform": [{"filter": "datum.panel === 'D'"}], "mark": {"type": "text", "align": "center", "baseline": "middle", "fontSize": 21, "color": "#000"}, "encoding": {"x": {"datum": 6.23}, "y": {"datum": -0.8734, "scale": {"domain": [-1.03797, 0.27848], "nice": false, "zero": false}, "axis": null}, "text": {"field": "bar"}}},
{"data": {"name": "panels"}, "transform": [{"filter": "datum.panel === 'D'"}], "mark": {"type": "text", "align": "left", "baseline": "alphabetic", "fontSize": 29, "fontWeight": "bold", "color": "#000"}, "encoding": {"x": {"datum": -2.113}, "y": {"datum": 0.1962, "scale": {"domain": [-1.03797, 0.27848], "nice": false, "zero": false}, "axis": null}, "text": {"field": "panel"}}}
]},
{"width": 316, "height": 211, "resolve": {"scale": {"y": "independent"}}, "layer": [
{"data": {"name": "stim"}, "transform": [{"filter": "datum.panel === 'E'"}], "mark": {"type": "line", "color": "#000", "strokeWidth": 2.7, "strokeJoin": "miter", "strokeCap": "butt"}, "encoding": {"x": {"field": "t", "type": "quantitative", "scale": {"domain": [-10.2778, 77.5], "nice": false, "zero": false}, "axis": null}, "y": {"field": "level", "type": "quantitative", "scale": {"domain": [-1.03974, 0.35762], "nice": false, "zero": false}, "axis": null}, "order": {"field": "i", "type": "quantitative"}}},
{"data": {"name": "panels"}, "transform": [{"filter": "datum.panel === 'E'"}], "mark": {"type": "rule", "color": "#000", "strokeWidth": 1, "strokeDash": [2, 2]}, "encoding": {"x": {"datum": 0}, "x2": {"datum": 76.67}, "y": {"datum": 0, "scale": {"domain": [-1.03974, 0.35762], "nice": false, "zero": false}, "axis": null}}},
{"data": {"name": "traces"}, "transform": [{"filter": "datum.panel === 'E'"}], "mark": {"type": "line", "strokeWidth": 2.6, "interpolate": "linear"}, "encoding": {"x": {"field": "t", "type": "quantitative"}, "y": {"field": "current", "type": "quantitative", "scale": {"domain": [-1.03974, 0.35762], "nice": false, "zero": false}, "axis": null}, "color": {"field": "series", "type": "nominal", "legend": null, "scale": {"domain": ["wild type","α1 T–6′A","α1 D–5′A","α1 S–4′A","α1 G–2′A","α1 T–6′G","α1 D–5′G","α1 S–4′G","α1 T–6′P","α1 D–5′P","α1 T–6′V","α1 D–5′V","α1 L9′A","α1 S27′I","α1 T–6′G + L9′A"], "range": ["#e8202a","#3a56a5","#1e914a","#d865b3","#9c1c22","#33489f","#1e914a","#d865b3","#3a56a5","#1e914a","#3a56a5","#1e914a","#858585","#22c0d4","#f68a4d"]}}}},
{"data": {"name": "labels"}, "transform": [{"filter": "datum.panel === 'E'"}], "mark": {"type": "text", "align": "left", "baseline": "middle", "fontSize": 22}, "encoding": {"x": {"datum": 81.67}, "y": {"field": "rank", "type": "quantitative", "scale": {"domain": [0, 4], "range": [54, 161]}, "axis": null}, "text": {"field": "series"}, "color": {"field": "series", "type": "nominal", "legend": null}}},
{"data": {"name": "panels"}, "transform": [{"filter": "datum.panel === 'E'"}], "mark": {"type": "rule", "color": "#000", "strokeWidth": 2.7, "strokeCap": "butt"}, "encoding": {"x": {"datum": 37.78}, "x2": {"datum": 57.78}, "y": {"datum": -0.298, "scale": {"domain": [-1.03974, 0.35762], "nice": false, "zero": false}, "axis": null}}},
{"data": {"name": "panels"}, "transform": [{"filter": "datum.panel === 'E'"}], "mark": {"type": "text", "align": "center", "baseline": "middle", "fontSize": 21, "color": "#000"}, "encoding": {"x": {"datum": 47.78}, "y": {"datum": -0.4172, "scale": {"domain": [-1.03974, 0.35762], "nice": false, "zero": false}, "axis": null}, "text": {"field": "bar"}}},
{"data": {"name": "panels"}, "transform": [{"filter": "datum.panel === 'E'"}], "mark": {"type": "text", "align": "left", "baseline": "alphabetic", "fontSize": 29, "fontWeight": "bold", "color": "#000"}, "encoding": {"x": {"datum": -9.444}, "y": {"datum": 0.245, "scale": {"domain": [-1.03974, 0.35762], "nice": false, "zero": false}, "axis": null}, "text": {"field": "panel"}}}
]}
]
}
